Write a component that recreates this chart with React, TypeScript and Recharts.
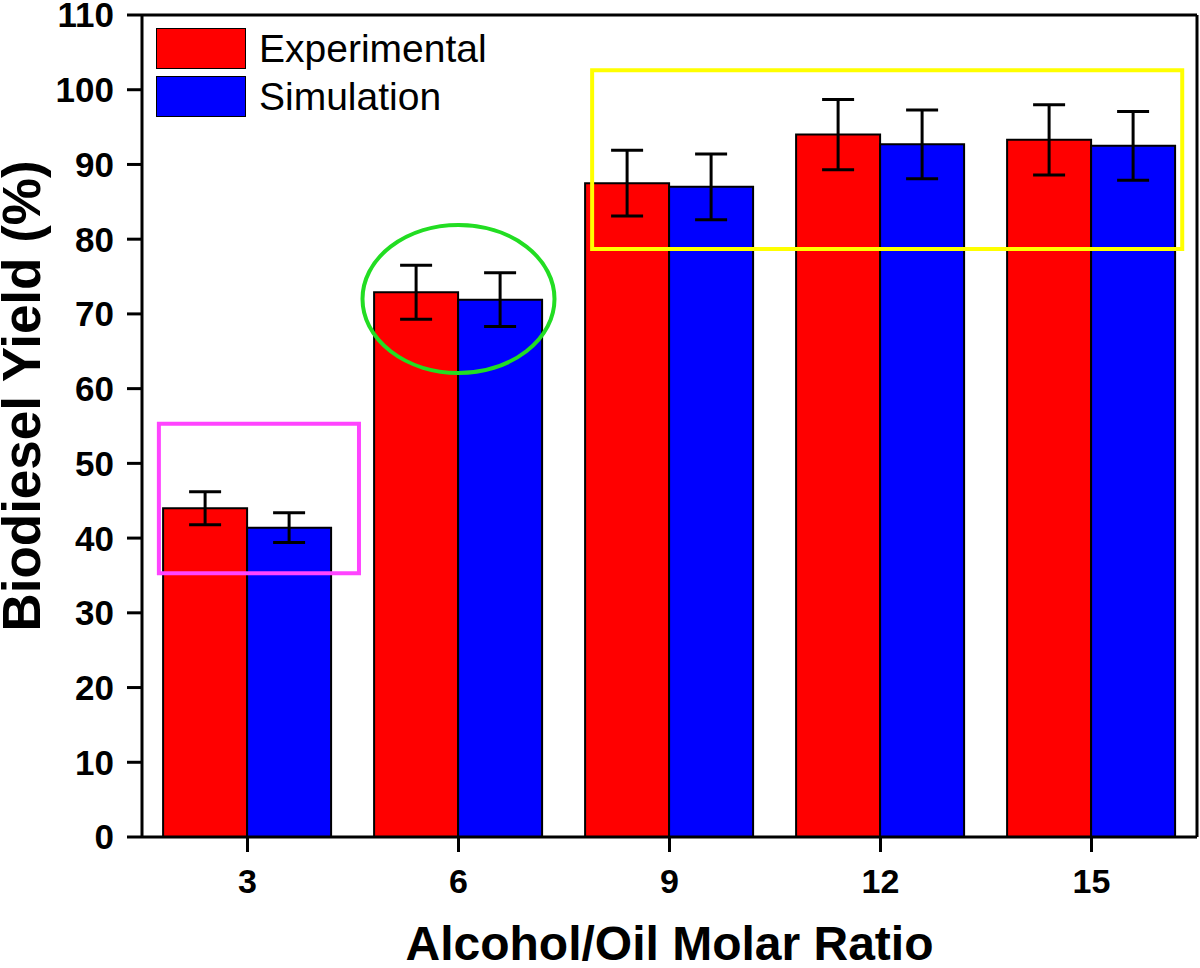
import {
  BarChart,
  Bar,
  XAxis,
  YAxis,
  ErrorBar,
  ReferenceLine,
  ReferenceArea,
  ReferenceDot,
} from "recharts";

const ratios = ["3", "6", "9", "12", "15"];
const experimental = [44.0, 72.9, 87.5, 94.0, 93.3];
const experimentalErr = [2.2, 3.6, 4.4, 4.7, 4.7];
const simulation = [41.4, 71.9, 87.0, 92.7, 92.5];
const simulationErr = [2.0, 3.6, 4.4, 4.6, 4.6];
const yTicks = [0, 10, 20, 30, 40, 50, 60, 70, 80, 90, 100, 110];

const data = ratios.map((r, i) => ({
  ratio: r,
  pos: Number(r),
  experimental: experimental[i],
  experimentalErr: experimentalErr[i],
  simulation: simulation[i],
  simulationErr: simulationErr[i],
}));

const font = '"Liberation Sans", Arial, sans-serif';

function LegendBox() {
  const items = [
    { name: "Experimental", color: "#ff0000" },
    { name: "Simulation", color: "#0000ff" },
  ];
  return (
    <div style={{ position: "absolute", left: 156, top: 28, fontFamily: font }}>
      {items.map((it, i) => (
        <div
          key={it.name}
          style={{ display: "flex", alignItems: "center", marginBottom: i === 0 ? 7 : 0 }}
        >
          <div
            style={{
              width: 88,
              height: 39,
              background: it.color,
              border: "1px solid #000",
            }}
          />
          <span style={{ fontSize: 39, marginLeft: 13, color: "#000", lineHeight: "40px" }}>
            {it.name}
          </span>
        </div>
      ))}
    </div>
  );
}

export default function App() {
  return (
    <div style={{ position: "absolute", left: 0, top: 0, background: "#fff" }}>
      <BarChart
        width={1200}
        height={968}
        data={data}
        margin={{ top: 15, right: 3, bottom: 0, left: 0 }}
        barCategoryGap="10%"
        barGap={0}
      >
        <XAxis
          dataKey="ratio"
          height={131}
          stroke="#000"
          strokeWidth={3}
          tickSize={15}
          tickMargin={17}
          tick={{ fill: "#000", fontSize: 34, fontWeight: "bold", fontFamily: font }}
          label={{
            content: (p: any) => (
              <text
                x={p.viewBox.x + p.viewBox.width / 2}
                y={p.viewBox.y + 123}
                textAnchor="middle"
                fontSize={48}
                fontWeight="bold"
                fontFamily={font}
                fill="#000"
              >
                Alcohol/Oil Molar Ratio
              </text>
            ),
          }}
        />
        <XAxis
          xAxisId="num"
          dataKey="pos"
          type="number"
          domain={[1.5, 16.5]}
          allowDataOverflow
          hide
        />
        <YAxis
          width={142}
          domain={[0, 110]}
          ticks={yTicks}
          interval={0}
          stroke="#000"
          strokeWidth={3}
          tickSize={15}
          tickMargin={13}
          tick={{ fill: "#000", fontSize: 35, fontWeight: "bold", fontFamily: font }}
          label={{
            content: () => (
              <text
                x={40}
                y={396}
                transform="rotate(-90, 40, 396)"
                textAnchor="middle"
                fontSize={53}
                fontWeight="bold"
                fontFamily={font}
                fill="#000"
              >
                Biodiesel Yield (%)
              </text>
            ),
          }}
        />
        <Bar
          dataKey="experimental"
          name="Experimental"
          fill="#ff0000"
          stroke="#000"
          strokeWidth={2}
          isAnimationActive={false}
        >
          <ErrorBar dataKey="experimentalErr" direction="y" width={16} stroke="#000" strokeWidth={3} />
        </Bar>
        <Bar
          dataKey="simulation"
          name="Simulation"
          fill="#0000ff"
          stroke="#000"
          strokeWidth={2}
          isAnimationActive={false}
        >
          <ErrorBar dataKey="simulationErr" direction="y" width={16} stroke="#000" strokeWidth={3} />
        </Bar>
        <ReferenceLine y={110} stroke="#000" strokeWidth={3} />
        <ReferenceLine xAxisId="num" x={16.5} stroke="#000" strokeWidth={3} />
        <ReferenceArea
          xAxisId="num"
          x1={1.74}
          x2={4.585}
          y1={35.3}
          y2={55.3}
          fill="none"
          fillOpacity={0}
          stroke="#ff44ff"
          strokeWidth={4}
          strokeOpacity={1}
          zIndex={1000}
        />
        <ReferenceArea
          xAxisId="num"
          x1={7.9}
          x2={16.29}
          y1={78.7}
          y2={102.6}
          fill="none"
          fillOpacity={0}
          stroke="#ffff00"
          strokeWidth={4}
          strokeOpacity={1}
          zIndex={1000}
        />
        <ReferenceDot
          xAxisId="num"
          x={6}
          y={72}
          zIndex={1000}
          shape={(p: any) => (
            <ellipse cx={p.cx} cy={p.cy} rx={96} ry={74} fill="none" stroke="#22dd22" strokeWidth={4} />
          )}
        />
      </BarChart>
      <LegendBox />
    </div>
  );
}
